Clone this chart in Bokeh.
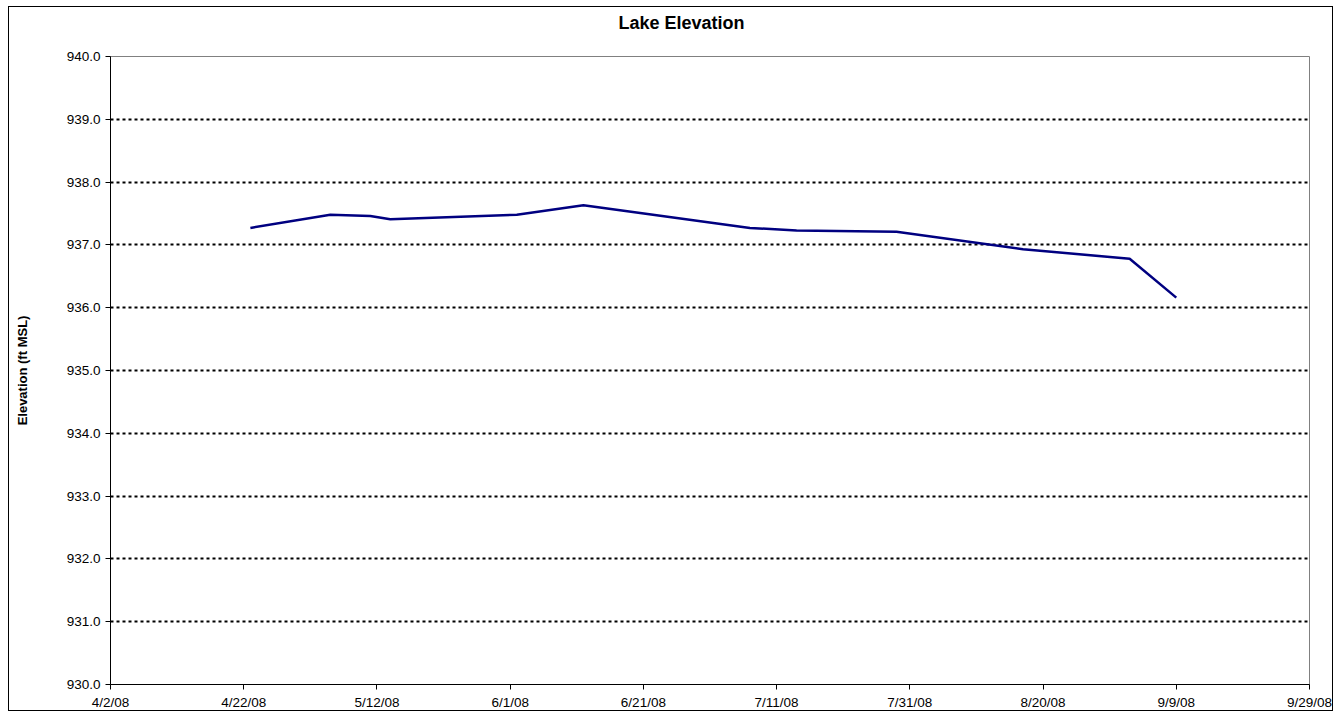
import pandas as pd
from bokeh.plotting import figure
from bokeh.models import FixedTicker, Range1d, Title
from bokeh.embed import file_html
from bokeh.resources import INLINE

# ---- data ----
dates = ["2008-04-23", "2008-05-05", "2008-05-11", "2008-05-14", "2008-06-02",
         "2008-06-12", "2008-07-07", "2008-07-14", "2008-07-29", "2008-08-17",
         "2008-09-02", "2008-09-09"]
elevation = [937.27, 937.48, 937.46, 937.41, 937.48,
             937.63, 937.27, 937.23, 937.21, 936.93,
             936.78, 936.16]
tick_dates = ["2008-04-02", "2008-04-22", "2008-05-12", "2008-06-01", "2008-06-21",
              "2008-07-11", "2008-07-31", "2008-08-20", "2008-09-09", "2008-09-29"]
tick_labels = ["4/2/08", "4/22/08", "5/12/08", "6/1/08", "6/21/08",
               "7/11/08", "7/31/08", "8/20/08", "9/9/08", "9/29/08"]
y_ticks = [930, 931, 932, 933, 934, 935, 936, 937, 938, 939, 940]
title_text = "Lake Elevation"

x = pd.to_datetime(dates)
tick_ms = [float(pd.Timestamp(d).value // 10**6) for d in tick_dates]

FONT = "Liberation Sans"
TICK_SIZE = "13.5px"

p = figure(width=1325, height=705, x_axis_type="datetime",
           output_backend="svg", toolbar_location=None,
           min_border_left=101, min_border_right=25,
           min_border_top=49, min_border_bottom=27)
p.styles = {"border": "1px solid black", "margin-left": "8px", "margin-top": "6px"}

p.x_range = Range1d(tick_ms[0], tick_ms[-1])
p.y_range = Range1d(930, 940)

p.line(x, elevation, line_color="#000080", line_width=2.5)

# main title, with an empty spacer title between it and the frame
p.title.text = title_text
p.title.align = "left"
p.title.offset = 508
p.title.standoff = 4
p.title.text_font = FONT
p.title.text_font_size = "18px"
p.title.text_font_style = "bold"
p.title.text_color = "black"
p.add_layout(Title(text=" ", text_font_size="1px", standoff=19), "above")

# axes
xa = p.xaxis[0]
xa.ticker = FixedTicker(ticks=tick_ms)
xa.major_label_overrides = {t: l for t, l in zip(tick_ms, tick_labels)}
ya = p.yaxis[0]
ya.ticker = FixedTicker(ticks=y_ticks)
ya.major_label_overrides = {v: f"{v:.1f}" for v in y_ticks}
ya.axis_label = "Elevation (ft MSL)"
ya.axis_label_text_font = FONT
ya.axis_label_text_font_size = "13px"
ya.axis_label_text_font_style = "bold"
ya.axis_label_text_color = "black"
ya.axis_label_standoff = 34

for ax in (xa, ya):
    ax.major_label_text_font = FONT
    ax.major_label_text_font_size = TICK_SIZE
    ax.major_label_text_color = "black"
    ax.axis_line_color = "black"
    ax.axis_line_width = 1
    ax.major_tick_line_color = "black"
    ax.major_tick_in = 0
    ax.major_tick_out = 5
    ax.minor_tick_line_color = None
xa.major_label_standoff = 5
ya.major_label_standoff = 5

# grid
p.xgrid.grid_line_color = None
p.ygrid.ticker = FixedTicker(ticks=y_ticks)
p.ygrid.grid_line_color = "black"
p.ygrid.grid_line_width = 2
p.ygrid.grid_line_dash = "3 3"

p.outline_line_color = "#808080"
p.outline_line_width = 1
p.background_fill_color = "white"
p.border_fill_color = "white"

open("out.html", "w").write(file_html(p, INLINE))
